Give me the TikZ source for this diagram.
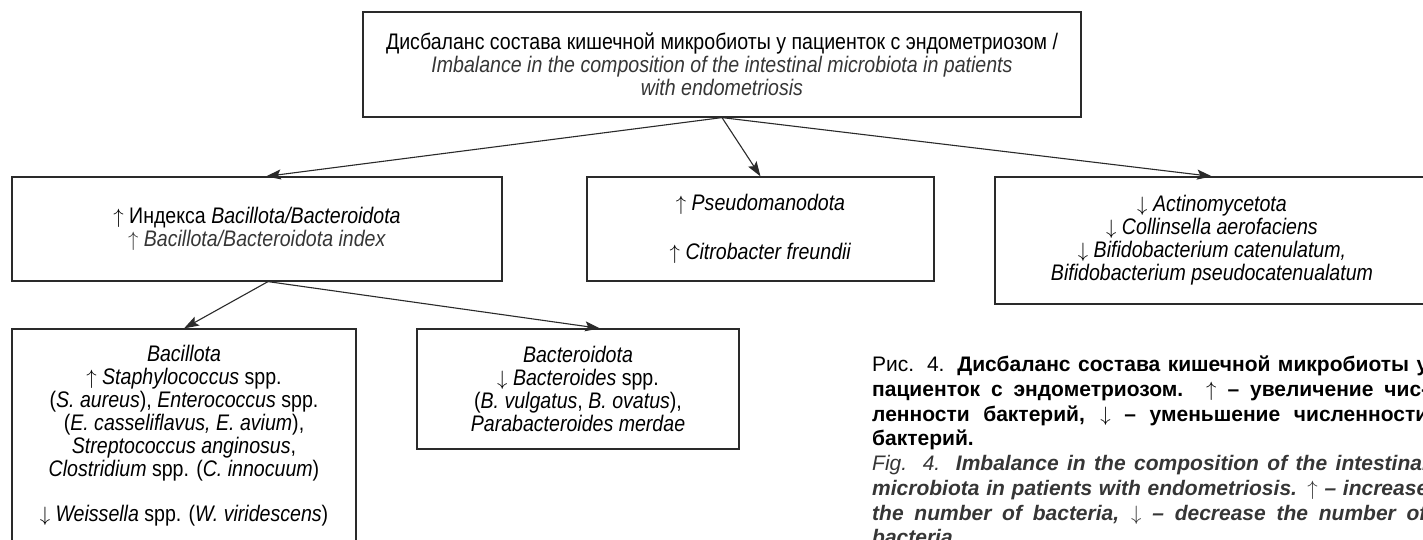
\documentclass[tikz,border=0pt]{standalone}
\usepackage{fontspec}
\setmainfont{Liberation Sans}[FakeStretch=0.87]
\newfontfamily\capfont{Liberation Sans}
\usetikzlibrary{arrows.meta}
\definecolor{eng}{HTML}{363636}
\definecolor{frame}{HTML}{2A2A2A}
\tikzset{
  boxnode/.style={draw=frame, line width=1.2pt, rectangle, inner sep=0pt,
    align=center, text=black, font=\fontsize{22.5}{23}\selectfont},
  arr/.style={draw=frame, line width=1.1pt,
    -{Stealth[length=15pt,width=10pt,inset=3pt]}},
  captext/.style={anchor=north west, inner sep=0pt, align=left,
    font=\capfont\fontsize{21}{24.7}\selectfont}
}
\newcommand{\capline}[1]{\makebox[556pt][s]{#1}}
\newcommand{\uparr}{\ensuremath{\uparrow}}
\newcommand{\dnarr}{\ensuremath{\downarrow}}
\begin{document}
\begin{tikzpicture}[x=1pt,y=-1pt]
\useasboundingbox (0,0) rectangle (1423,540);
\clip (0,0) rectangle (1423,540);
\fill[white] (0,0) rectangle (1423,540);

\node[boxnode, minimum width=718pt, minimum height=105pt] (top) at (722,64.5)
  {Дисбаланс состава кишечной микробиоты у пациенток с эндометриозом /\\
   \textcolor{eng}{\textit{Imbalance in the composition of the intestinal microbiota in patients}}\\
   \textcolor{eng}{\textit{with endometriosis}}};

\node[boxnode, minimum width=490pt, minimum height=104pt] (lm) at (257,229)
  {\uparr{} Индекса \textit{Bacillota/Bacteroidota}\\
   \textcolor{eng}{\uparr{} \textit{Bacillota/Bacteroidota index}}};

\node[boxnode, minimum width=347pt, minimum height=104pt] (mid) at (760.5,229)
  {\uparr{} \textit{Pseudomanodota}\\[26pt]
   \uparr{} \textit{Citrobacter freundii}};

\node[boxnode, minimum width=434pt, minimum height=127pt] (rt) at (1212,240.5)
  {\dnarr{} \textit{Actinomycetota}\\
   \dnarr{} \textit{Collinsella aerofaciens}\\
   \dnarr{} \textit{Bifidobacterium catenulatum,}\\
   \textit{Bifidobacterium pseudocatenualatum}};

\node[boxnode, minimum width=344pt, minimum height=214pt] (bl) at (184,436)
  {\textit{Bacillota}\\
   \uparr{} \textit{Staphylococcus} spp.\\
   (\textit{S. aureus}), \textit{Enterococcus} spp.\\
   (\textit{E. casseliflavus, E. avium}),\\
   \textit{Streptococcus anginosus},\\
   \textit{Clostridium} spp. (\textit{C. innocuum})\\[22pt]
   \dnarr{} \textit{Weissella} spp. (\textit{W. viridescens})};

\node[boxnode, minimum width=322pt, minimum height=120pt] (bm) at (578,389)
  {\textit{Bacteroidota}\\
   \dnarr{} \textit{Bacteroides} spp.\\
   (\textit{B. vulgatus}, \textit{B. ovatus}),\\
   \textit{Parabacteroides merdae}};

\draw[arr] (top.south) -- ([xshift=9pt]lm.north);
\draw[arr] (top.south) -- (mid.north);
\draw[arr] (top.south) -- (rt.north);
\draw[arr] ([xshift=11pt]lm.south) -- (bl.north);
\draw[arr] ([xshift=11pt]lm.south) -- ([xshift=22pt]bm.north);

\node[captext] (cap) at (872,356)
  {\capline{Рис. 4. \textbf{Дисбаланс состава кишечной микробиоты у}}\\
   \capline{\textbf{пациенток с эндометриозом. \uparr{} – увеличение чис-}}\\
   \capline{\textbf{ленности бактерий, \dnarr{} – уменьшение численности}}\\
   \textbf{бактерий.}\\
   \textcolor{eng}{\capline{\textit{Fig. 4. \textbf{Imbalance in the composition of the intestinal}}}}\\
   \textcolor{eng}{\capline{\textit{\textbf{microbiota in patients with endometriosis. \uparr{} – increase}}}}\\
   \textcolor{eng}{\capline{\textit{\textbf{the number of bacteria, \dnarr{} – decrease the number of}}}}\\
   \textcolor{eng}{\textit{\textbf{bacteria.}}}};
\end{tikzpicture}
\end{document}
